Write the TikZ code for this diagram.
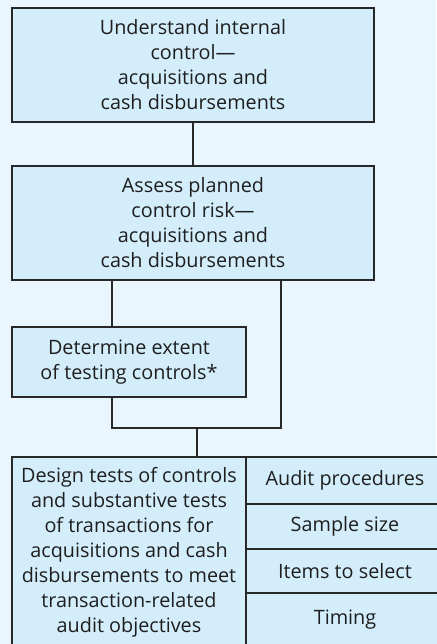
\documentclass[tikz,border=0pt]{standalone}
\usepackage{fontspec}
\setmainfont{Open Sans}
\definecolor{bgc}{RGB}{234,246,253}
\definecolor{boxc}{RGB}{211,237,251}
\definecolor{linec}{RGB}{40,40,40}
\definecolor{textc}{RGB}{30,30,30}
\begin{document}
\begin{tikzpicture}[x=1pt,y=-1pt,
  box/.style={draw=linec,fill=boxc,line width=1.1pt,inner sep=0pt,align=center,
    font=\fontsize{19.8}{25}\selectfont,text=textc},
  conn/.style={draw=linec,line width=2pt}]
\fill[bgc] (0,0) rectangle (436,644);
\useasboundingbox (0,0) rectangle (436,644);
\node[box,minimum width=362pt,minimum height=114pt] (b1) at (193,65)
  {Understand internal\\control---\\acquisitions and\\cash disbursements};
\node[box,minimum width=362pt,minimum height=114pt] (b2) at (193,223)
  {Assess planned\\control risk---\\acquisitions and\\cash disbursements};
\node[box,minimum width=234pt,minimum height=70pt] (b3) at (129,362)
  {Determine extent\\of testing controls*};
\node[box,minimum width=234pt,minimum height=190pt] (b4) at (129,552)
  {Design tests of controls\\and substantive tests\\of transactions for\\acquisitions and cash\\disbursements to meet\\transaction-related\\audit objectives};
\node[box,minimum width=198pt,minimum height=47pt] (r1) at (345,480.5) {Audit procedures};
\node[box,minimum width=198pt,minimum height=45pt] (r2) at (345,526.5) {Sample size};
\node[box,minimum width=198pt,minimum height=44pt] (r3) at (345,571) {Items to select};
\node[box,minimum width=198pt,minimum height=54pt] (r4) at (345,620) {Timing};
\coordinate (jl) at (112,428);
\coordinate (jr) at (281,428);
\coordinate (jm) at (197,428);
\draw[conn] (b1.south) -- (b2.north);
\draw[conn] (b2.south -| jl) -- (b3.north -| jl);
\draw[conn] (b3.south -| jl) -- (jl) -- (jr) -- (b2.south -| jr);
\draw[conn] (jm) -- (b4.north -| jm);
\end{tikzpicture}
\end{document}
